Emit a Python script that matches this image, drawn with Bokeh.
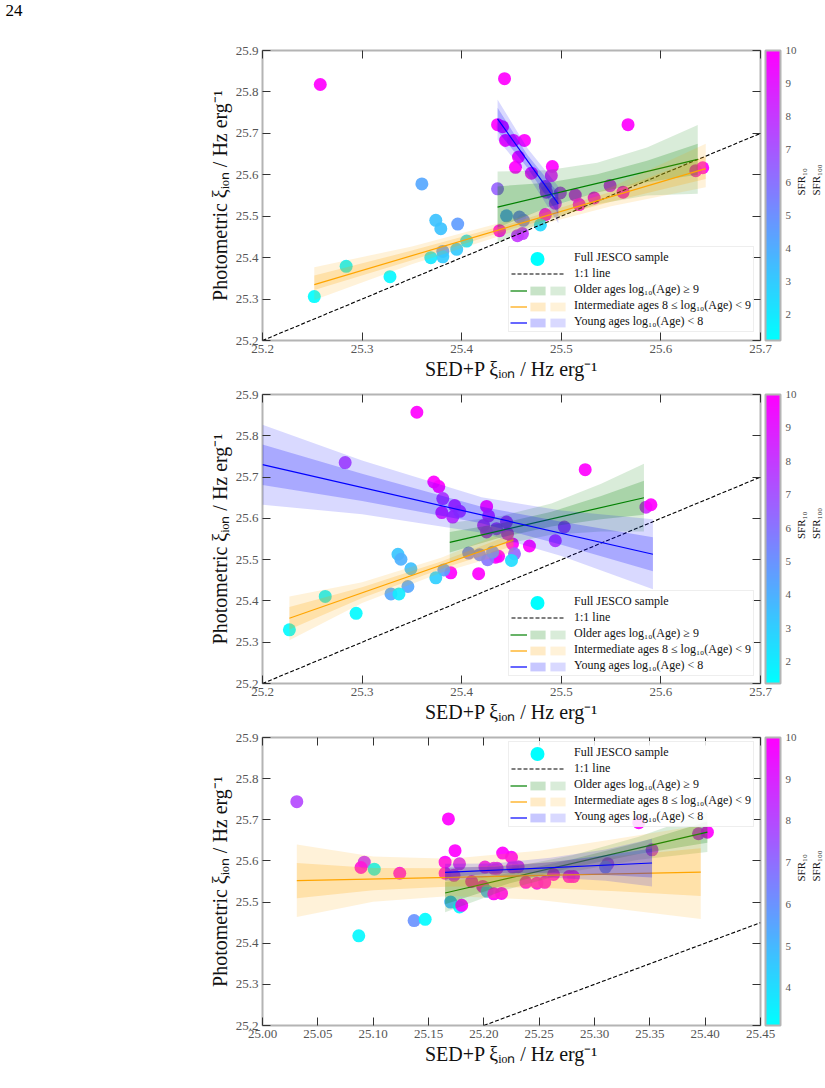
import numpy as np
from bokeh.plotting import figure
from bokeh.models import (ColumnDataSource, LinearColorMapper, ColorBar, FixedTicker,
                          LinearAxis, Legend, LegendItem, PrintfTickFormatter, Range1d)
from bokeh.layouts import column
from bokeh.embed import file_html
from bokeh.resources import INLINE
from bokeh.core.properties import value

# ---------------- data ----------------
x_ticks_12 = [25.2, 25.3, 25.4, 25.5, 25.6, 25.7]
x_ticks_3 = [25.00, 25.05, 25.10, 25.15, 25.20, 25.25, 25.30, 25.35, 25.40, 25.45]
y_ticks = [25.2, 25.3, 25.4, 25.5, 25.6, 25.7, 25.8, 25.9]
cb_ticks_12 = [2, 3, 4, 5, 6, 7, 8, 9, 10]
cb_ticks_3 = [4, 5, 6, 7, 8, 9, 10]
cb_range_1 = [1.2, 10]
cb_range_2 = [1.35, 10]
cb_range_3 = [3.1, 10]
one_to_one_12 = [25.2, 25.7]
one_to_one_3 = [25.2, 25.45]

# Panel 1 points
p1_x = [25.258, 25.443, 25.567, 25.436, 25.441, 25.444, 25.452, 25.463, 25.457, 25.454,
        25.470, 25.491, 25.490, 25.484, 25.485, 25.499, 25.494, 25.514, 25.549, 25.562,
        25.533, 25.518, 25.635, 25.642, 25.436, 25.445, 25.458, 25.462, 25.484, 25.479,
        25.438, 25.456, 25.461, 25.360, 25.374, 25.379, 25.396, 25.405, 25.381, 25.381,
        25.369, 25.395, 25.284, 25.328, 25.252]
p1_y = [25.818, 25.832, 25.721, 25.721, 25.716, 25.683, 25.683, 25.683, 25.643, 25.618,
        25.604, 25.620, 25.598, 25.572, 25.558, 25.556, 25.531, 25.551, 25.574, 25.558,
        25.544, 25.528, 25.610, 25.617, 25.566, 25.501, 25.498, 25.490, 25.504, 25.479,
        25.465, 25.453, 25.458, 25.578, 25.490, 25.470, 25.481, 25.440, 25.415, 25.402,
        25.400, 25.420, 25.379, 25.354, 25.306]
p1_c = [10, 10, 10, 10, 9.5, 10, 9.5, 10, 10, 10,
        9.5, 10, 9, 8, 8, 8, 8.5, 9, 9, 10,
        10, 10, 9.5, 10, 6.5, 4.5, 5.5, 5.5, 10, 2.5,
        10, 8, 8, 4.2, 3.3, 3.3, 4.6, 2.2, 4.5, 3.0,
        2.0, 3.0, 1.6, 1.5, 1.3]

# Panel 2 points
p2_x = [25.355, 25.283, 25.372, 25.377, 25.381, 25.380, 25.393, 25.391, 25.398, 25.425,
        25.427, 25.422, 25.425, 25.435, 25.445, 25.446, 25.451, 25.453, 25.450, 25.437,
        25.434, 25.426, 25.431, 25.418, 25.407, 25.417, 25.389, 25.382, 25.374, 25.336,
        25.339, 25.349, 25.346, 25.329, 25.337, 25.263, 25.294, 25.227, 25.524, 25.585,
        25.590, 25.503, 25.494, 25.468]
p2_y = [25.857, 25.735, 25.688, 25.677, 25.648, 25.614, 25.631, 25.603, 25.617, 25.629,
        25.606, 25.583, 25.567, 25.575, 25.591, 25.563, 25.538, 25.514, 25.498, 25.508,
        25.506, 25.500, 25.518, 25.512, 25.516, 25.466, 25.468, 25.475, 25.456, 25.513,
        25.501, 25.478, 25.435, 25.417, 25.417, 25.411, 25.370, 25.330, 25.718, 25.627,
        25.633, 25.579, 25.546, 25.533]
p2_c = [10, 7.5, 10, 10, 8, 9, 8.5, 8.5, 8, 10,
        8.5, 8.5, 8.5, 8, 8, 9, 10, 6.5, 2.5, 10,
        10, 6, 5, 5.5, 5.5, 10, 10, 4.5, 3, 3.3,
        4, 3.5, 4.3, 4.3, 2, 1.8, 1.5, 1.5, 10, 8.5,
        10, 7.5, 8, 10]

# Panel 3 points
p3_x = [25.031, 25.092, 25.089, 25.101, 25.124, 25.087, 25.137, 25.147, 25.168, 25.174,
        25.165, 25.178, 25.165, 25.173, 25.170, 25.178, 25.180, 25.189, 25.199, 25.203,
        25.209, 25.216, 25.201, 25.209, 25.212, 25.217, 25.225, 25.226, 25.231, 25.238,
        25.248, 25.255, 25.263, 25.277, 25.281, 25.312, 25.310, 25.352, 25.340, 25.394,
        25.402]
p3_y = [25.744, 25.597, 25.584, 25.580, 25.570, 25.418, 25.455, 25.458, 25.702, 25.625,
        25.597, 25.593, 25.570, 25.565, 25.500, 25.488, 25.492, 25.550, 25.538, 25.526,
        25.520, 25.521, 25.585, 25.582, 25.582, 25.619, 25.609, 25.585, 25.586, 25.548,
        25.546, 25.548, 25.567, 25.562, 25.562, 25.593, 25.585, 25.627, 25.693, 25.666,
        25.670]
p3_c = [8, 8.5, 10, 3.3, 10, 3.3, 6, 3.2, 10, 10,
        10, 9, 10, 9, 5, 3.3, 10, 10, 10, 5,
        10, 10, 9.5, 9, 9, 10, 10, 9, 9, 10,
        10, 10, 10, 10, 10, 8, 6, 8.5, 10, 9,
        10]

# Regression fits: x positions, line, inner and outer band edges
# Panel 1
p1_old_x = [25.436, 25.486, 25.536, 25.586, 25.637]
p1_old_line = [25.522, 25.551, 25.579, 25.608, 25.637]
p1_old_in_lo = [25.472, 25.521, 25.557, 25.582, 25.600]
p1_old_in_hi = [25.572, 25.581, 25.601, 25.634, 25.675]
p1_old_out_lo = [25.436, 25.491, 25.529, 25.550, 25.554]
p1_old_out_hi = [25.608, 25.611, 25.629, 25.666, 25.720]
p1_int_x = [25.252, 25.35, 25.45, 25.55, 25.645]
p1_int_line = [25.335, 25.405, 25.476, 25.547, 25.615]
p1_int_in_lo = [25.322, 25.394, 25.469, 25.535, 25.590]
p1_int_in_hi = [25.357, 25.417, 25.483, 25.559, 25.645]
p1_int_out_lo = [25.298, 25.384, 25.461, 25.524, 25.570]
p1_int_out_hi = [25.377, 25.427, 25.491, 25.570, 25.675]
p1_yng_x = [25.436, 25.466, 25.497]
p1_yng_line = [25.735, 25.632, 25.530]
p1_yng_in_lo = [25.705, 25.617, 25.505]
p1_yng_in_hi = [25.762, 25.648, 25.556]
p1_yng_out_lo = [25.685, 25.600, 25.483]
p1_yng_out_hi = [25.782, 25.664, 25.572]
# Panel 2
p2_old_x = [25.388, 25.44, 25.49, 25.54, 25.583]
p2_old_line = [25.542, 25.571, 25.598, 25.626, 25.650]
p2_old_in_lo = [25.517, 25.554, 25.580, 25.598, 25.609]
p2_old_in_hi = [25.567, 25.588, 25.616, 25.654, 25.691]
p2_old_out_lo = [25.495, 25.536, 25.560, 25.568, 25.568]
p2_old_out_hi = [25.589, 25.606, 25.636, 25.684, 25.732]
p2_int_x = [25.227, 25.3, 25.38, 25.452]
p2_int_line = [25.358, 25.420, 25.487, 25.548]
p2_int_in_lo = [25.331, 25.407, 25.478, 25.533]
p2_int_in_hi = [25.385, 25.433, 25.496, 25.563]
p2_int_out_lo = [25.305, 25.395, 25.469, 25.520]
p2_int_out_hi = [25.411, 25.445, 25.505, 25.576]
p2_yng_x = [25.2, 25.3, 25.42, 25.5, 25.592]
p2_yng_line = [25.730, 25.675, 25.608, 25.564, 25.513]
p2_yng_in_lo = [25.681, 25.642, 25.588, 25.536, 25.472]
p2_yng_in_hi = [25.779, 25.708, 25.628, 25.592, 25.554]
p2_yng_out_lo = [25.633, 25.610, 25.565, 25.509, 25.428]
p2_yng_out_hi = [25.827, 25.740, 25.651, 25.619, 25.598]
# Panel 3
p3_old_x = [25.165, 25.22, 25.28, 25.34, 25.402]
p3_old_line = [25.522, 25.556, 25.594, 25.631, 25.670]
p3_old_in_lo = [25.495, 25.543, 25.584, 25.617, 25.644]
p3_old_in_hi = [25.549, 25.569, 25.604, 25.645, 25.696]
p3_old_out_lo = [25.475, 25.530, 25.574, 25.603, 25.622]
p3_old_out_hi = [25.573, 25.582, 25.614, 25.659, 25.718]
p3_int_x = [25.031, 25.1, 25.17, 25.25, 25.32, 25.396]
p3_int_line = [25.552, 25.556, 25.560, 25.565, 25.569, 25.573]
p3_int_in_lo = [25.509, 25.529, 25.538, 25.535, 25.526, 25.515]
p3_int_in_hi = [25.595, 25.583, 25.582, 25.595, 25.612, 25.631]
p3_int_out_lo = [25.464, 25.501, 25.515, 25.505, 25.484, 25.459]
p3_int_out_hi = [25.640, 25.611, 25.605, 25.625, 25.654, 25.687]
p3_yng_x = [25.165, 25.21, 25.26, 25.31, 25.352]
p3_yng_line = [25.572, 25.578, 25.584, 25.590, 25.595]
p3_yng_in_lo = [25.560, 25.570, 25.571, 25.566, 25.560]
p3_yng_in_hi = [25.584, 25.586, 25.597, 25.614, 25.630]
p3_yng_out_lo = [25.551, 25.562, 25.560, 25.552, 25.538]
p3_yng_out_hi = [25.593, 25.594, 25.608, 25.628, 25.654]

labels = ["Full JESCO sample", "1:1 line",
          "Older ages log\u2081\u2080(Age) \u2265 9",
          "Intermediate ages 8 \u2264 log\u2081\u2080(Age) < 9",
          "Young ages log\u2081\u2080(Age) < 8"]
cbar_label = "SFR\u2081\u2080\nSFR\u2081\u2080\u2080"
page_number = "24"

# ---------------- style ----------------
FONT = "Liberation Serif"
FRAME_GRAY = "#b4b4b4"
TICK_COL = "#333333"
LAB_COL = "#555555"
COOL = ["#%02x%02x%02x" % (int(round(255 * t)), int(round(255 * (1 - t))), 255)
        for t in np.linspace(0, 1, 256)]
GROUP_COLORS = ["#008000", "#ffa500", "#0000ff"]
HAS_LABEL_ORIENT = "axis_label_orientation" in LinearAxis.properties()


def style_axis(ax, ticks, fmt, show_labels=True, standoff=4):
    ax.ticker = FixedTicker(ticks=ticks)
    ax.formatter = PrintfTickFormatter(format=fmt)
    ax.axis_line_color = None
    ax.major_tick_in = 8
    ax.major_tick_out = 0
    ax.major_tick_line_color = TICK_COL
    ax.major_tick_line_width = 1
    ax.minor_tick_line_color = None
    ax.major_label_text_font = FONT
    ax.major_label_text_color = LAB_COL
    ax.major_label_standoff = standoff
    if show_labels:
        ax.major_label_text_font_size = "13px"
    else:
        ax.major_label_text_font_size = "0px"
        ax.major_label_text_color = None
    ax.axis_label_text_font = FONT
    ax.axis_label_text_font_style = "normal"
    ax.axis_label_text_font_size = "20px"
    ax.axis_label_text_color = "#111111"
    ax.axis_label_standoff = 2


def make_panel(pts, fits, xr, xticks, xfmt, cbr, cbt, fh, top, bottom, leg_top):
    px, py, pc = pts
    p = figure(frame_width=498, frame_height=fh, x_range=Range1d(*xr),
               y_range=Range1d(25.2, 25.9), output_backend="svg", toolbar_location=None,
               min_border_left=262, min_border_right=65, min_border_top=top,
               min_border_bottom=bottom)
    p.grid.visible = False
    p.outline_line_color = FRAME_GRAY
    p.outline_line_width = 2
    p.background_fill_color = "white"
    p.border_fill_color = "white"

    style_axis(p.xaxis[0], xticks, xfmt)
    style_axis(p.yaxis[0], y_ticks, "%.1f")
    p.xaxis[0].axis_label = "SED+P \u03be\u1d62\u2092\u2099 / Hz erg\u207b\u00b9"
    p.yaxis[0].axis_label = "Photometric \u03be\u1d62\u2092\u2099 / Hz erg\u207b\u00b9"

    top_ax = LinearAxis()
    style_axis(top_ax, xticks, xfmt, show_labels=False, standoff=0)
    p.add_layout(top_ax, "above")
    right_ax = LinearAxis()
    style_axis(right_ax, y_ticks, "%.1f", show_labels=False, standoff=0)
    p.add_layout(right_ax, "right")

    mapper = LinearColorMapper(palette=COOL, low=cbr[0], high=cbr[1])
    src = ColumnDataSource(dict(x=px, y=py, c=pc))
    p.scatter("x", "y", source=src, size=13, marker="circle",
              fill_color={"field": "c", "transform": mapper}, fill_alpha=0.92,
              line_color=None)

    o2o = one_to_one_3 if xr[0] < 25.1 else one_to_one_12
    r_11 = p.line(o2o, o2o, line_color="black", line_dash="4 2", line_width=1.1)

    line_rs, in_rs, out_rs = [], [], []
    for (fx, fl, ilo, ihi, olo, ohi), col in zip(fits, GROUP_COLORS):
        ro = p.varea(x=fx, y1=olo, y2=ohi, fill_color=col, fill_alpha=0.15)
        ri = p.varea(x=fx, y1=ilo, y2=ihi, fill_color=col, fill_alpha=0.22)
        rl = p.line([fx[0], fx[-1]], [fl[0], fl[-1]], line_color=col, line_width=1.2)
        line_rs.append(rl)
        in_rs.append(ri)
        out_rs.append(ro)

    # colour bar
    cb = ColorBar(color_mapper=mapper, ticker=FixedTicker(ticks=cbt), width=15,
                  padding=0, margin=0, label_standoff=5, location=(5, 0),
                  major_label_text_font=FONT, major_label_text_font_size="11px",
                  major_label_text_color=LAB_COL, major_tick_line_color=None,
                  bar_line_color=FRAME_GRAY, bar_line_width=2,
                  border_line_color=None, background_fill_color=None)
    p.add_layout(cb, "right")

    # colour bar label, carried by a tick-less axis beyond the colour bar
    lab_ax = LinearAxis(ticker=FixedTicker(ticks=[]), axis_line_color=None,
                        major_tick_line_color=None, minor_tick_line_color=None,
                        major_label_text_font_size="0px", major_label_text_color=None,
                        axis_label=cbar_label, axis_label_text_font=FONT,
                        axis_label_text_font_style="normal",
                        axis_label_text_font_size="11px", axis_label_text_color="#111111",
                        axis_label_standoff=9, major_label_standoff=0)
    if HAS_LABEL_ORIENT:
        lab_ax.axis_label_orientation = np.pi / 2
    p.add_layout(lab_ax, "right")

    # legend
    dummy_c = p.scatter(x=[np.nan], y=[np.nan], size=14, marker="circle",
                        fill_color="cyan", line_color=None)
    dummy_l = p.line(x=[np.nan], y=[np.nan], line_alpha=0)
    pad = 2
    row = 16
    gw_main = 54
    leg_h = 2 * pad + 5 * row
    lx = 246
    ly = fh - leg_top - leg_h
    common = dict(spacing=0, label_height=row, glyph_height=11, margin=0,
                  label_text_font=FONT, label_text_font_size="12px",
                  label_standoff=9, padding=pad)
    main = Legend(items=[LegendItem(label=labels[0], renderers=[dummy_l]),
                         LegendItem(label=labels[1], renderers=[r_11]),
                         LegendItem(label=labels[2], renderers=[dummy_l]),
                         LegendItem(label=labels[3], renderers=[dummy_l]),
                         LegendItem(label=labels[4], renderers=[dummy_l])],
                  location=(lx, ly), glyph_width=gw_main, background_fill_color="white",
                  background_fill_alpha=0.85, border_line_color="#dddddd",
                  border_line_width=1, label_text_color="#111111", **common)
    p.add_layout(main)
    for off, rs, gw in ((0, line_rs, 17), (18, in_rs, 19), (38, out_rs, 19)):
        ov = Legend(items=[LegendItem(label=value(""), renderers=[r]) for r in rs],
                    location=(lx + off, ly), glyph_width=gw, background_fill_alpha=0,
                    border_line_alpha=0, label_text_color=None, **common)
        p.add_layout(ov)
    # big marker of the first legend row
    circ = Legend(items=[LegendItem(label=value(""), renderers=[dummy_c])],
                  location=(lx + pad, ly + pad + 4 * row + row / 2 - 17.5),
                  glyph_width=gw_main, glyph_height=35, label_height=35, padding=0,
                  margin=0, spacing=0, background_fill_alpha=0, border_line_alpha=0,
                  label_text_color=None, label_text_font_size="12px")
    p.add_layout(circ)
    return p


fits1 = [(p1_old_x, p1_old_line, p1_old_in_lo, p1_old_in_hi, p1_old_out_lo, p1_old_out_hi),
         (p1_int_x, p1_int_line, p1_int_in_lo, p1_int_in_hi, p1_int_out_lo, p1_int_out_hi),
         (p1_yng_x, p1_yng_line, p1_yng_in_lo, p1_yng_in_hi, p1_yng_out_lo, p1_yng_out_hi)]
fits2 = [(p2_old_x, p2_old_line, p2_old_in_lo, p2_old_in_hi, p2_old_out_lo, p2_old_out_hi),
         (p2_int_x, p2_int_line, p2_int_in_lo, p2_int_in_hi, p2_int_out_lo, p2_int_out_hi),
         (p2_yng_x, p2_yng_line, p2_yng_in_lo, p2_yng_in_hi, p2_yng_out_lo, p2_yng_out_hi)]
fits3 = [(p3_old_x, p3_old_line, p3_old_in_lo, p3_old_in_hi, p3_old_out_lo, p3_old_out_hi),
         (p3_int_x, p3_int_line, p3_int_in_lo, p3_int_in_hi, p3_int_out_lo, p3_int_out_hi),
         (p3_yng_x, p3_yng_line, p3_yng_in_lo, p3_yng_in_hi, p3_yng_out_lo, p3_yng_out_hi)]

# page header: page number carried by the title of a tiny empty figure
HEAD = 28
head = figure(frame_width=498, height=HEAD, output_backend="svg", toolbar_location=None,
              min_border=0, min_border_left=262, min_border_right=65, title=page_number)
head.axis.visible = False
head.grid.visible = False
head.outline_line_color = None
head.title.align = "left"
head.title.offset = -257
head.title.standoff = 4
head.title.text_font = FONT
head.title.text_font_size = "17px"
head.title.text_font_style = "normal"
head.title.text_color = "#000000"

fig1 = make_panel((p1_x, p1_y, p1_c), fits1, (25.2, 25.7), x_ticks_12, "%.1f",
                  cb_range_1, cb_ticks_12, 290, 50 - HEAD, 44, 198)
fig2 = make_panel((p2_x, p2_y, p2_c), fits2, (25.2, 25.7), x_ticks_12, "%.1f",
                  cb_range_2, cb_ticks_12, 289, 10, 44, 198)
fig3 = make_panel((p3_x, p3_y, p3_c), fits3, (25.0, 25.45), x_ticks_3, "%.2f",
                  cb_range_3, cb_ticks_3, 288, 10, 50, 6)

layout = column(head, fig1, fig2, fig3, spacing=0)
open("out.html", "w").write(file_html(layout, INLINE))
